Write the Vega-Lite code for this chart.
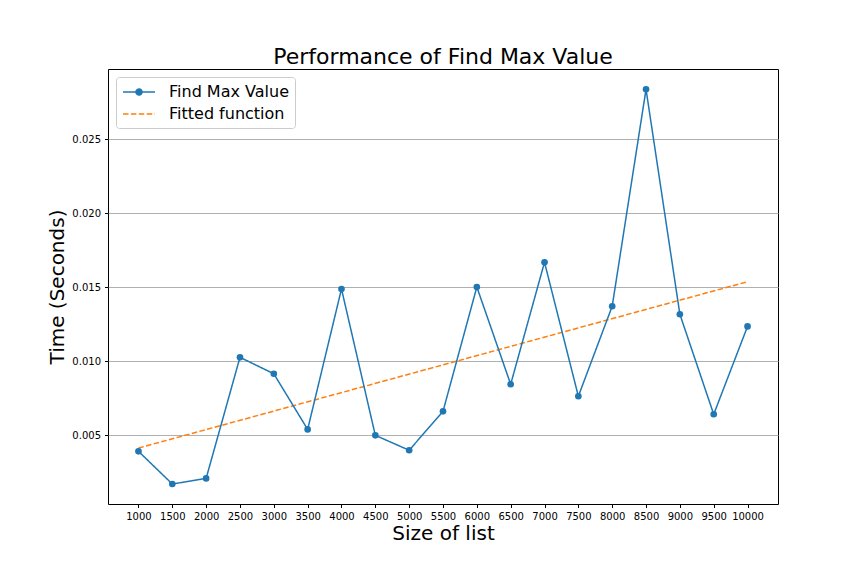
{
  "$schema": "https://vega.github.io/schema/vega-lite/v6.json",
  "width": 670,
  "height": 435,
  "autosize": "none",
  "padding": {"left": 108, "top": 69, "right": 86, "bottom": 72},
  "background": "white",
  "config": {
    "font": "DejaVu Sans",
    "view": {"stroke": "black", "strokeWidth": 1}
  },
  "title": {
    "text": "Performance of Find Max Value",
    "fontSize": 22,
    "fontWeight": "normal",
    "font": "DejaVu Sans",
    "color": "black",
    "offset": 0
  },
  "datasets": {
    "measured": [
      {"n": 1000, "t": 0.00392, "series": "Find Max Value"},
      {"n": 1500, "t": 0.00171, "series": "Find Max Value"},
      {"n": 2000, "t": 0.00209, "series": "Find Max Value"},
      {"n": 2500, "t": 0.01027, "series": "Find Max Value"},
      {"n": 3000, "t": 0.00916, "series": "Find Max Value"},
      {"n": 3500, "t": 0.00540, "series": "Find Max Value"},
      {"n": 4000, "t": 0.01489, "series": "Find Max Value"},
      {"n": 4500, "t": 0.00500, "series": "Find Max Value"},
      {"n": 5000, "t": 0.00399, "series": "Find Max Value"},
      {"n": 5500, "t": 0.00662, "series": "Find Max Value"},
      {"n": 6000, "t": 0.01502, "series": "Find Max Value"},
      {"n": 6500, "t": 0.00845, "series": "Find Max Value"},
      {"n": 7000, "t": 0.01669, "series": "Find Max Value"},
      {"n": 7500, "t": 0.00764, "series": "Find Max Value"},
      {"n": 8000, "t": 0.01372, "series": "Find Max Value"},
      {"n": 8500, "t": 0.02838, "series": "Find Max Value"},
      {"n": 9000, "t": 0.01318, "series": "Find Max Value"},
      {"n": 9500, "t": 0.00642, "series": "Find Max Value"},
      {"n": 10000, "t": 0.01236, "series": "Find Max Value"}
    ],
    "fit": [
      {"n": 1000, "t": 0.00414, "series": "Fitted function"},
      {"n": 10000, "t": 0.01538, "series": "Fitted function"}
    ]
  },
  "encoding": {
    "x": {
      "field": "n",
      "type": "quantitative",
      "scale": {"domain": [550, 10450], "nice": false, "zero": false},
      "axis": {
        "values": [1000, 1500, 2000, 2500, 3000, 3500, 4000, 4500, 5000, 5500, 6000, 6500, 7000, 7500, 8000, 8500, 9000, 9500, 10000],
        "format": "d",
        "labelAngle": 0,
        "labelFontSize": 10,
        "labelColor": "black",
        "labelPadding": 4,
        "tickSize": 3.5,
        "tickColor": "black",
        "domain": false,
        "grid": false,
        "title": "Size of list",
        "titleFontSize": 20,
        "titleFontWeight": "normal",
        "titleColor": "black",
        "titlePadding": 2
      }
    },
    "y": {
      "field": "t",
      "type": "quantitative",
      "scale": {"domain": [0.00036, 0.02975], "nice": false, "zero": false},
      "axis": {
        "values": [0.005, 0.01, 0.015, 0.02, 0.025],
        "format": ".3f",
        "labelFontSize": 10,
        "labelColor": "black",
        "labelPadding": 4,
        "tickSize": 3.5,
        "tickColor": "black",
        "domain": false,
        "grid": true,
        "gridColor": "#b0b0b0",
        "gridWidth": 1,
        "title": "Time (Seconds)",
        "titleFontSize": 20,
        "titleFontWeight": "normal",
        "titleColor": "black",
        "titlePadding": 4
      }
    },
    "color": {
      "field": "series",
      "type": "nominal",
      "scale": {"domain": ["Find Max Value", "Fitted function"], "range": ["#1f77b4", "#ff7f0e"]},
      "legend": {
        "title": null,
        "orient": "top-left",
        "offset": 8,
        "padding": 6,
        "fillColor": "white",
        "strokeColor": "#cccccc",
        "cornerRadius": 3,
        "labelFontSize": 16,
        "labelColor": "black",
        "labelOffset": 29,
        "rowPadding": 5,
        "symbolSize": 256,
        "symbolStrokeWidth": 1.5,
        "symbolType": "M-1,0H3",
        "encode": {
          "symbols": {
            "update": {
              "shape": [
                {"test": "datum.value === 'Find Max Value'", "value": "M-1,0H3M1.375,0A0.375,0.375,0,1,1,0.625,0A0.375,0.375,0,1,1,1.375,0"},
                {"value": "M-1,0H3"}
              ],
              "fill": [
                {"test": "datum.value === 'Find Max Value'", "value": "#1f77b4"},
                {"value": "transparent"}
              ]
            }
          }
        }
      }
    },
    "strokeDash": {
      "field": "series",
      "type": "nominal",
      "scale": {"domain": ["Find Max Value", "Fitted function"], "range": [[1, 0], [5.5, 2.4]]},
      "legend": null
    }
  },
  "layer": [
    {
      "data": {"name": "fit"},
      "mark": {"type": "line", "strokeWidth": 1.5}
    },
    {
      "data": {"name": "measured"},
      "mark": {"type": "line", "strokeWidth": 1.5, "point": {"filled": true, "size": 44}}
    }
  ]
}
